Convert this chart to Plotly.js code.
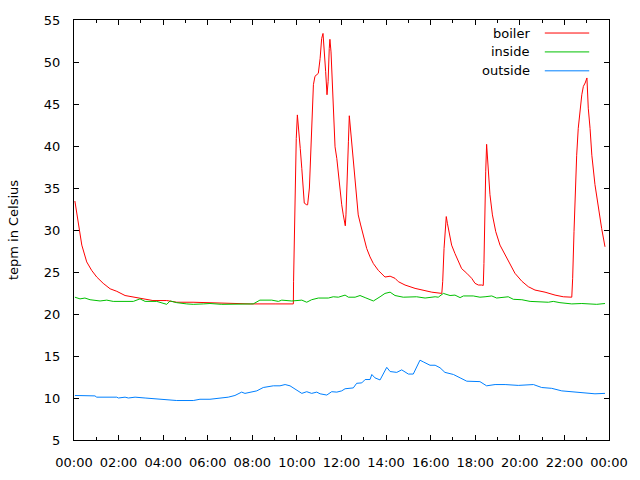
<!DOCTYPE html>
<html>
<head>
<meta charset="utf-8">
<script src="https://cdn.plot.ly/plotly-3.0.1.min.js"></script>
<style>html,body{margin:0;padding:0;background:#fff;}#chart{width:640px;height:480px;}</style>
</head>
<body>
<div id="chart"></div>
<script>
// Series names and colours
const seriesNames = ["boiler", "inside", "outside"];
const seriesColors = ["#ff0000", "#00c000", "#0080ff"];

// Tick labels (hours of day)
const tickHours = [0, 2, 4, 6, 8, 10, 12, 14, 16, 18, 20, 22, 24];
const tickLabels = ["00:00","02:00","04:00","06:00","08:00","10:00","12:00","14:00","16:00","18:00","20:00","22:00","00:00"];
const yTicks = [5, 10, 15, 20, 25, 30, 35, 40, 45, 50, 55];

// boiler
const boilerHours = [0.04,0.19,0.35,0.57,0.79,1.02,1.31,1.62,1.92,2.29,2.74,3.04,3.54,4.16,4.61,5.34,6.55,7.90,9.02,9.84,
  9.85,9.88,9.93,9.97,10.02,10.05,10.09,10.15,10.22,10.27,10.33,10.44,10.48,10.56,10.60,10.66,10.71,10.74,10.81,10.96,
  11.04,11.11,11.17,11.22,11.29,11.35,11.40,11.45,11.48,11.53,11.61,11.66,11.71,11.79,11.86,11.93,12.01,12.08,12.17,
  12.20,12.26,12.31,12.35,12.40,12.46,12.53,12.61,12.68,12.75,12.86,12.98,13.13,13.28,13.43,13.65,13.80,13.95,14.18,
  14.40,14.55,14.85,15.30,15.67,16.05,16.50,16.54,16.60,16.66,16.70,16.75,16.84,16.94,17.09,17.24,17.39,17.62,17.84,
  17.99,18.14,18.29,18.36,18.39,18.42,18.47,18.51,18.54,18.59,18.66,18.77,18.92,19.11,19.34,19.56,19.78,20.09,20.38,
  20.68,21.13,21.58,21.95,22.33,22.37,22.43,22.48,22.55,22.62,22.70,22.78,22.85,22.93,23.01,23.07,23.15,23.23,23.37,
  23.52,23.67,23.82];
const boilerTemp = [33.45,30.6,28.2,26.2,25.2,24.4,23.65,23.0,22.7,22.2,22.0,21.9,21.6,21.6,21.4,21.4,21.3,21.2,21.2,21.2,
  23.9,29.5,35.2,40.9,43.7,42.9,41.9,39.7,37.3,35.4,33.2,33.0,33.0,35.0,38.1,41.7,45.1,47.3,48.3,48.65,
  50.4,52.8,53.4,51.7,48.85,46.1,47.7,51.6,52.7,51.2,45.1,41.9,39.9,38.5,36.5,35.0,33.0,31.8,30.5,
  31.8,38.5,40.5,43.6,42.1,39.9,38.1,35.4,33.4,31.8,30.6,29.2,27.8,26.8,26.0,25.2,24.85,24.4,24.5,
  24.25,23.85,23.45,23.05,22.85,22.6,22.45,23.85,27.8,30.2,31.6,30.8,29.4,28.2,27.2,26.2,25.4,24.85,24.25,
  23.65,23.45,23.45,23.4,26.0,31.8,37.0,40.2,38.9,37.0,34.2,31.8,29.8,28.2,27.0,25.8,24.85,23.9,23.25,
  22.85,22.6,22.25,22.05,22.0,24.25,29.8,35.0,38.9,42.1,44.5,46.1,47.1,47.5,48.1,44.5,42.1,38.9,35.4,
  32.6,30.2,28.0];

// inside
const insideHours = [0.04,0.27,0.49,0.72,1.17,1.47,1.76,2.66,2.96,3.19,3.71,4.16,4.31,4.61,5.06,5.35,5.80,6.10,6.63,7.37,
  8.04,8.34,8.87,9.17,9.32,9.77,10.22,10.44,10.66,10.96,11.41,11.63,11.86,12.16,12.31,12.61,12.83,13.06,13.43,13.73,
  13.95,14.18,14.40,14.77,15.22,15.37,15.75,16.20,16.34,16.57,16.87,17.09,17.32,17.47,17.91,18.21,18.44,18.74,18.96,
  19.48,19.71,20.09,20.46,21.28,21.50,21.80,22.33,22.78,23.45,23.82];
const insideTemp = [22.0,21.8,21.9,21.7,21.55,21.65,21.5,21.5,21.8,21.5,21.5,21.15,21.55,21.35,21.2,21.15,21.2,21.25,21.15,21.2,
  21.2,21.65,21.65,21.5,21.65,21.55,21.65,21.4,21.7,21.9,21.9,22.05,22.0,22.25,22.0,22.0,22.2,21.95,21.55,22.05,
  22.45,22.6,22.2,22.0,22.0,22.05,21.9,22.05,22.0,22.45,22.2,22.25,21.95,22.15,22.15,22.0,22.05,22.15,21.9,
  22.05,21.75,21.7,21.5,21.4,21.5,21.35,21.2,21.25,21.15,21.25];

// outside
const outsideHours = [0.04,0.94,1.02,1.92,1.99,2.29,2.44,2.74,3.19,3.93,4.61,5.35,5.65,6.10,6.55,6.92,7.22,7.37,7.52,7.67,
  7.97,8.20,8.49,8.94,9.24,9.47,9.69,9.91,10.22,10.44,10.66,10.89,11.04,11.34,11.56,11.79,12.01,12.16,12.31,12.53,
  12.68,12.91,13.06,13.28,13.36,13.50,13.73,14.03,14.18,14.48,14.70,15.00,15.22,15.52,15.67,15.97,16.20,16.42,16.64,
  17.02,17.32,17.62,18.21,18.51,18.89,19.34,19.93,20.61,20.98,21.43,21.88,22.33,22.78,23.37,23.82];
const outsideTemp = [10.3,10.25,10.1,10.1,10.0,10.1,10.0,10.1,10.0,9.85,9.7,9.7,9.85,9.85,10.0,10.1,10.3,10.5,10.7,10.55,
  10.7,10.85,11.25,11.45,11.45,11.6,11.45,11.1,10.55,10.75,10.55,10.7,10.5,10.35,10.75,10.7,10.85,11.1,11.15,11.2,
  11.75,11.8,12.2,12.2,12.8,12.4,12.15,13.65,13.15,13.05,13.35,12.85,12.85,14.5,14.3,13.9,13.9,13.6,13.05,
  12.8,12.4,12.0,11.95,11.45,11.6,11.6,11.5,11.6,11.25,11.15,10.85,10.75,10.65,10.5,10.55];

const xs = [boilerHours, insideHours, outsideHours];
const ys = [boilerTemp, insideTemp, outsideTemp];

const traces = seriesNames.map((n, i) => ({
  x: xs[i], y: ys[i], name: n, type: 'scatter', mode: 'lines',
  line: {color: seriesColors[i], width: 1}, showlegend: false, hoverinfo: 'skip'
}));

const FONT = {family: 'DejaVu Sans, sans-serif', size: 13, color: '#000'};

// Legend drawn as text + line samples (text left of sample, as in gnuplot)
const legendTextX = 0.857, legendLineX0 = 0.880, legendLineX1 = 0.963;
const legendRowsY = [0.969, 0.924, 0.879];
const annotations = seriesNames.map((n, i) => ({
  xref: 'paper', yref: 'paper', x: legendTextX, y: legendRowsY[i],
  text: n, showarrow: false, xanchor: 'right', yanchor: 'middle', font: FONT
}));
const shapes = seriesNames.map((n, i) => ({
  type: 'line', xref: 'paper', yref: 'paper',
  x0: legendLineX0, x1: legendLineX1, y0: legendRowsY[i], y1: legendRowsY[i],
  line: {color: seriesColors[i], width: 1}
}));

const layout = {
  width: 640, height: 480,
  margin: {l: 74, r: 31, t: 20, b: 40, pad: 0},
  paper_bgcolor: '#fff', plot_bgcolor: '#fff',
  font: FONT,
  showlegend: false,
  xaxis: {
    range: [0, 24], tickvals: tickHours, ticktext: tickLabels,
    showgrid: false, zeroline: false, showline: true, linecolor: '#000', linewidth: 1,
    mirror: 'ticks', ticks: 'inside', ticklen: 5, tickcolor: '#000', tickwidth: 1,
    ticklabelstandoff: 10,
    minor: {dtick: 1, ticks: 'inside', ticklen: 3, tickcolor: '#000', showgrid: false},
    tickfont: FONT
  },
  yaxis: {
    range: [5, 55], tickvals: yTicks,
    showgrid: false, zeroline: false, showline: true, linecolor: '#000', linewidth: 1,
    mirror: 'ticks', ticks: 'inside', ticklen: 5, tickcolor: '#000', tickwidth: 1,
    ticklabelstandoff: 10,
    title: {text: 'tepm in Celsius', font: FONT, standoff: 22},
    tickfont: FONT
  },
  annotations: annotations,
  shapes: shapes
};

Plotly.newPlot('chart', traces, layout, {staticPlot: true, displayModeBar: false});
</script>
</body>
</html>
